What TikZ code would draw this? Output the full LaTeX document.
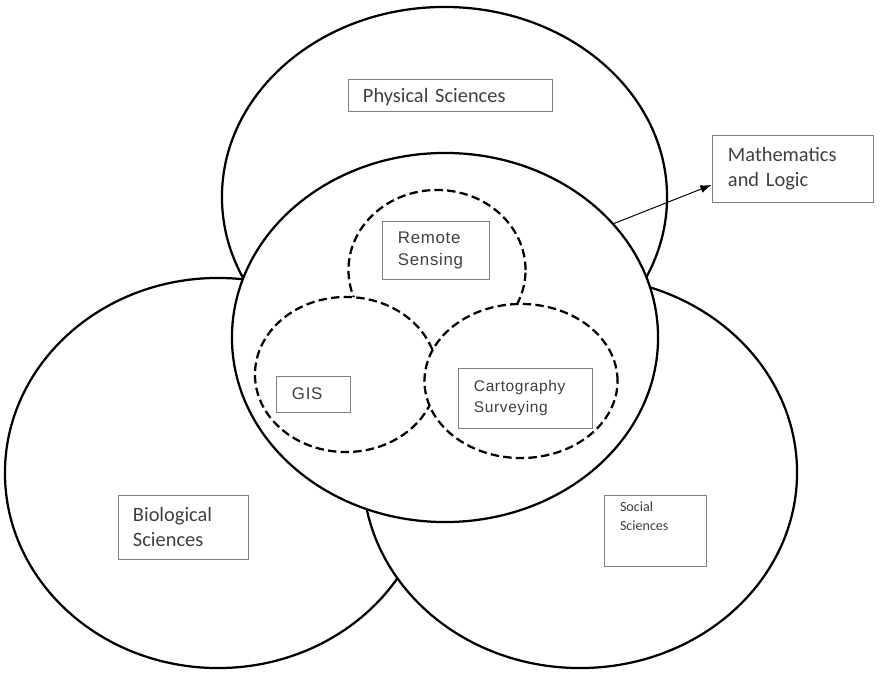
\documentclass[tikz,border=0pt]{standalone}
\usepackage{fontspec}
\setmainfont{Carlito}
\newfontfamily\arialfont[LetterSpace=4]{Liberation Sans}
\usetikzlibrary{shapes.geometric,arrows.meta}
\definecolor{txtgray}{HTML}{404040}
\definecolor{boxgray}{HTML}{808080}
\tikzset{
  field/.style={ellipse, draw, fill=white, line width=1.6pt, inner sep=0pt},
  branch/.style={ellipse, draw, fill=white, line width=1.6pt, dash pattern=on 6pt off 3pt, inner sep=0pt},
  lbl/.style={draw=boxgray, line width=0.6pt, align=left, text=txtgray, inner ysep=0pt},
}
\begin{document}
\begin{tikzpicture}[x=0.025cm, y=-0.025cm]
\useasboundingbox (0,0) rectangle (880,676);
\node[field, minimum width=11.125cm, minimum height=9.5cm] (phys) at (444.5,197) {};
\node[field, minimum width=10.65cm, minimum height=9.75cm] (bio) at (218,473) {};
\node[field, minimum width=10.85cm, minimum height=9.775cm] (soc) at (580,472.5) {};
\node[field, minimum width=10.65cm, minimum height=9.225cm] (core) at (445,337.5) {};
\node[branch, minimum width=4.425cm, minimum height=4cm] (rs) at (437,270) {};
\node[branch, minimum width=4.55cm, minimum height=3.875cm] (gis) at (346,374.5) {};
\node[branch, minimum width=4.825cm, minimum height=3.85cm] (carto) at (521,381) {};
\node[lbl, font=\fontsize{14.5}{17.5}\selectfont, text width=4.35cm, inner xsep=0.375cm, minimum height=0.8cm, text depth=0pt] (physlbl) at (450,95) {Physical Sciences};
\node[lbl, font=\arialfont\fontsize{12}{15.6}\selectfont, text width=1.875cm, inner xsep=0.4cm, minimum height=1.45cm] (rslbl) at (435.5,250) {Remote\\Sensing};
\node[lbl, font=\arialfont\fontsize{12}{15.6}\selectfont, text width=1.05cm, inner xsep=0.4cm, minimum height=0.9cm] (gislbl) at (313,394) {GIS};
\node[lbl, font=\arialfont\fontsize{11}{15.6}\selectfont, text width=2.55cm, inner xsep=0.4cm, minimum height=1.5cm] (cartolbl) at (525,398) {Cartography\\Surveying};
\node[lbl, font=\fontsize{14.5}{17.5}\selectfont, text width=3.225cm, inner xsep=0.4cm, minimum height=1.675cm] (math) at (792.5,168.5) {Mathematics\\and Logic};
\node[lbl, font=\fontsize{14.5}{17.7}\selectfont, text width=2.5cm, inner xsep=0.375cm, minimum height=1.6cm] (biolbl) at (183,527) {Biological\\Sciences};
\node[lbl, font=\fontsize{10}{13.5}\selectfont, text width=1.75cm, inner xsep=0.4cm, inner ysep=4.6pt, text depth=34pt, anchor=north] (soclbl) at (655,495) {Social\\Sciences};
\draw[-{Latex[length=2.8mm,width=2mm]}, line width=0.7pt] (core.34) -- ([yshift=-0.41cm]math.west);
\end{tikzpicture}
\end{document}
